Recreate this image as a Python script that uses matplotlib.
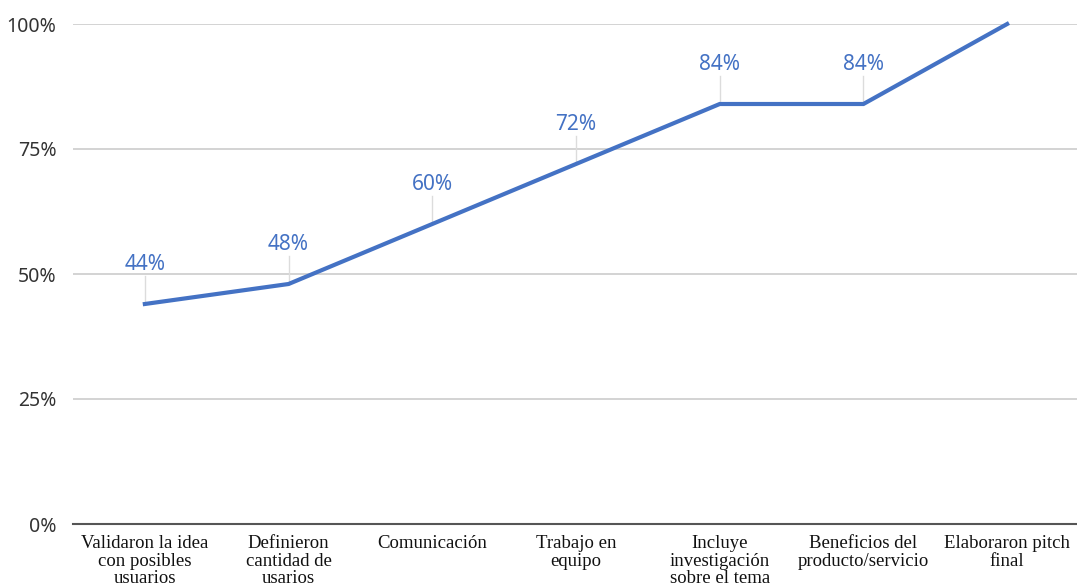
import matplotlib
matplotlib.use("Agg")
import matplotlib.pyplot as plt
from matplotlib.ticker import FuncFormatter

categories = [
    "Validaron la idea\ncon posibles\nusuarios",
    "Definieron\ncantidad de\nusarios",
    "Comunicación",
    "Trabajo en\nequipo",
    "Incluye\ninvestigación\nsobre el tema",
    "Beneficios del\nproducto/servicio",
    "Elaboraron pitch\nfinal",
]
values = [44, 48, 60, 72, 84, 84, 100]
y_ticks = [0, 25, 50, 75, 100]

blue = "#4472C4"
grid_gray = "#cccccc"
y_max = 100

fig = plt.figure(figsize=(10.77, 5.88), dpi=100)
ax = fig.add_axes([73 / 1077, 64 / 588, 1006 / 1077, 500 / 588])

x = list(range(len(values)))
ax.plot(x, values, color=blue, linewidth=3, solid_joinstyle="miter", zorder=3, clip_on=False)

# value labels with short leader lines; labels that would sit above the plot area are left out
for xi, v in zip(x, values):
    if v + 8 > y_max:
        continue
    ax.plot([xi, xi], [v, v + 5.6], color="#dcdcdc", linewidth=1, zorder=2)
    ax.text(xi, v + 8, f"{v}%", ha="center", va="center", color=blue,
            fontsize=15, family="Noto Sans")

ax.set_xlim(-0.5, len(values) - 0.5)
ax.set_ylim(0, y_max)
ax.set_yticks(y_ticks)
ax.yaxis.set_major_formatter(FuncFormatter(lambda v, p: f"{int(v)}%"))
ax.set_xticks(x)
ax.set_xticklabels(categories, family="Liberation Serif", fontsize=13.5,
                   linespacing=1.05, color="#111111")
for lab in ax.get_yticklabels():
    lab.set_family("Noto Sans")
    lab.set_fontsize(14)
    lab.set_color("#333333")

ax.tick_params(axis="both", length=0)
ax.tick_params(axis="y", pad=12)
ax.tick_params(axis="x", pad=8)

ax.grid(axis="y", color=grid_gray, linewidth=1.2)
ax.set_axisbelow(True)
for s in ["top", "right", "left"]:
    ax.spines[s].set_visible(False)
ax.spines["bottom"].set_color("#555555")
ax.spines["bottom"].set_linewidth(1.5)

fig.savefig("out.png", dpi=100)
